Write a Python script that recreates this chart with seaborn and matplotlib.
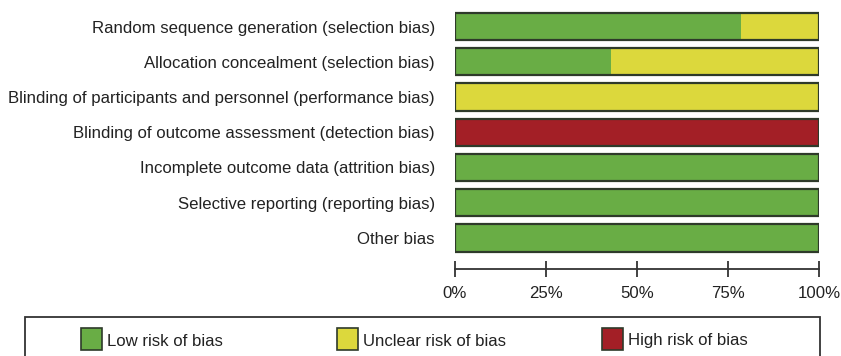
import matplotlib
matplotlib.use("Agg")
import matplotlib.pyplot as plt
from matplotlib.patches import Rectangle
import seaborn as sns
import pandas as pd

# Risk-of-bias summary (percentage of studies per judgement)
domains = [
    "Random sequence generation (selection bias)",
    "Allocation concealment (selection bias)",
    "Blinding of participants and personnel (performance bias)",
    "Blinding of outcome assessment (detection bias)",
    "Incomplete outcome data (attrition bias)",
    "Selective reporting (reporting bias)",
    "Other bias",
]
low_risk = [78.6, 42.9, 0, 0, 100, 100, 100]
unclear_risk = [21.4, 57.1, 100, 0, 0, 0, 0]
high_risk = [0, 0, 0, 100, 0, 0, 0]
tick_values = [0, 25, 50, 75, 100]
tick_labels = ["0%", "25%", "50%", "75%", "100%"]
legend_labels = ["Low risk of bias", "Unclear risk of bias", "High risk of bias"]

GREEN = "#69ad45"
YELLOW = "#dcd83c"
RED = "#a31f26"
EDGE = "#2e3a2a"
TEXT = "#222222"
FS = 12.1

sns.set_theme(style="white")
plt.rcParams["font.family"] = ["Liberation Sans", "DejaVu Sans"]

df = pd.DataFrame({
    "domain": domains,
    "low": low_risk,
    "unclear": unclear_risk,
    "high": high_risk,
})
df["low_unclear"] = df["low"] + df["unclear"]
df["total"] = df["low_unclear"] + df["high"]

W, H = 841, 356
fig = plt.figure(figsize=(W / 100, H / 100), dpi=100)
ax = fig.add_axes([455 / W, 1 - 269 / H, (819 - 455) / W, (269 - 8.9) / H])

bar_w = 0.77
# stacked layers drawn back to front: high, unclear, low
sns.barplot(data=df, x="total", y="domain", color=RED, width=bar_w,
            linewidth=0, saturation=1, ax=ax)
sns.barplot(data=df, x="low_unclear", y="domain", color=YELLOW, width=bar_w,
            linewidth=0, saturation=1, ax=ax)
sns.barplot(data=df, x="low", y="domain", color=GREEN, width=bar_w,
            linewidth=0, saturation=1, ax=ax)
n_fill = len(ax.patches)
# outline around each full bar
sns.barplot(data=df, x="total", y="domain", color="white", width=bar_w,
            saturation=1, ax=ax)
for p in ax.patches[n_fill:]:
    p.set_facecolor("none")
    p.set_edgecolor(EDGE)
    p.set_linewidth(1.6)

ax.set_xlim(0, 100)
ax.set_ylim(6.88, -0.5)
ax.set_xlabel("")
ax.set_ylabel("")
for s in ["top", "right", "left"]:
    ax.spines[s].set_visible(False)
ax.spines["bottom"].set_color("#333333")
ax.spines["bottom"].set_linewidth(1.3)
ax.set_xticks(tick_values)
ax.set_xticklabels(tick_labels)
ax.tick_params(axis="x", direction="inout", length=11, width=1.3,
               color="#333333", labelsize=FS, labelcolor=TEXT, pad=7,
               bottom=True)
ax.tick_params(axis="y", length=0, labelsize=FS, labelcolor=TEXT, pad=14.4)

# legend box along the bottom edge
fig.patches.append(Rectangle((25 / W, -0.05), (820 - 25) / W, 0.05 + (1 - 317 / H),
                             transform=fig.transFigure, facecolor="white",
                             edgecolor="#333333", linewidth=1.3, zorder=0))
legend_x = [81, 337, 602]
for x0, lab, col in zip(legend_x, legend_labels, [GREEN, YELLOW, RED]):
    fig.patches.append(Rectangle((x0 / W, 1 - 350 / H), 21 / W, 22 / H,
                                 transform=fig.transFigure, facecolor=col,
                                 edgecolor=EDGE, linewidth=1.2))
    fig.text((x0 + 26) / W, 1 - 341 / H, lab, fontsize=FS, color=TEXT,
             va="center", ha="left")

fig.savefig("out.png", dpi=100)
